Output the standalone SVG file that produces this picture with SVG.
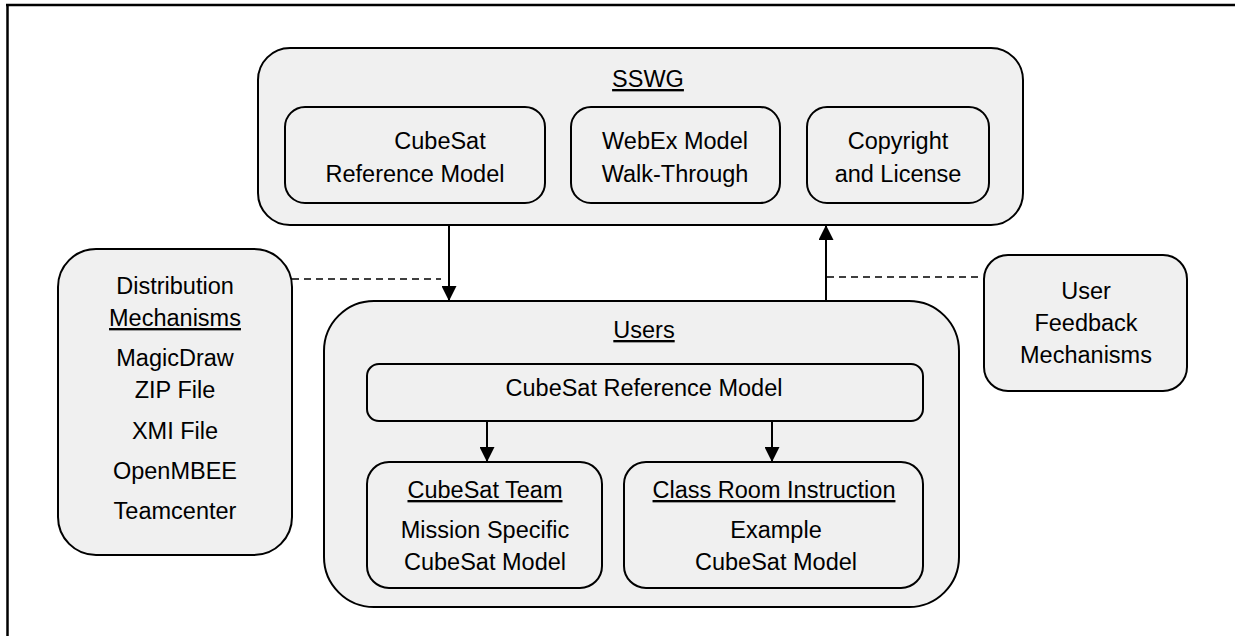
<svg xmlns="http://www.w3.org/2000/svg" width="1235" height="636" viewBox="0 0 1235 636">
<style>
.box{fill:#f0f0f0;stroke:#000;stroke-width:2}
.t{font-family:"Liberation Sans",Arial,sans-serif;font-size:23.5px;fill:#000;text-anchor:middle}
.u{text-decoration:underline}
.ln{stroke:#000;stroke-width:2;fill:none}
.dash{stroke:#000;stroke-width:1.5;fill:none;stroke-dasharray:7 5}
</style>
<defs>
<marker id="ah" markerWidth="15" markerHeight="15" viewBox="0 0 15 15" refX="15" refY="7.5" orient="auto" markerUnits="userSpaceOnUse">
<path d="M0,0 L15,7.5 L0,15 Z" fill="#000"/>
</marker>
</defs>
<rect width="1235" height="636" fill="#fff"/>
<g id="frame">
<line x1="6" y1="5" x2="1235" y2="5" stroke="#000" stroke-width="2.5"/>
<line x1="7.5" y1="4" x2="7.5" y2="636" stroke="#000" stroke-width="2.5"/>
</g>
<g id="sswg">
<rect class="box" x="258" y="48" width="765" height="177" rx="32"/>
<text class="t u" x="648" y="87">SSWG</text>
</g>
<g id="sswg-ref">
<rect class="box" x="285" y="107" width="260" height="96" rx="20"/>
<text class="t" x="440" y="149">CubeSat</text>
<text class="t" x="415" y="182">Reference Model</text>
</g>
<g id="webex">
<rect class="box" x="571" y="107" width="209" height="96" rx="20"/>
<text class="t" x="675" y="149">WebEx Model</text>
<text class="t" x="675" y="182">Walk-Through</text>
</g>
<g id="copyright">
<rect class="box" x="807" y="107" width="182" height="96" rx="20"/>
<text class="t" x="898" y="149">Copyright</text>
<text class="t" x="898" y="182">and License</text>
</g>
<g id="distribution">
<rect class="box" x="58" y="249" width="234" height="306" rx="38"/>
<text class="t" x="175" y="294">Distribution</text>
<text class="t u" x="175" y="326">Mechanisms</text>
<text class="t" x="175" y="366">MagicDraw</text>
<text class="t" x="175" y="398">ZIP File</text>
<text class="t" x="175" y="439">XMI File</text>
<text class="t" x="175" y="479">OpenMBEE</text>
<text class="t" x="175" y="519">Teamcenter</text>
</g>
<g id="users">
<rect class="box" x="324" y="301" width="635" height="306" rx="50"/>
<text class="t u" x="644" y="338">Users</text>
</g>
<g id="users-ref">
<rect class="box" x="367" y="364" width="556" height="57" rx="12"/>
<text class="t" x="644" y="396">CubeSat Reference Model</text>
</g>
<g id="team">
<rect class="box" x="367" y="462" width="235" height="126" rx="22"/>
<text class="t u" x="485" y="498">CubeSat Team</text>
<text class="t" x="485" y="538">Mission Specific</text>
<text class="t" x="485" y="570">CubeSat Model</text>
</g>
<g id="classroom">
<rect class="box" x="624" y="462" width="299" height="126" rx="22"/>
<text class="t u" x="774" y="498">Class Room Instruction</text>
<text class="t" x="776" y="538">Example</text>
<text class="t" x="776" y="570">CubeSat Model</text>
</g>
<g id="feedback">
<rect class="box" x="984" y="255" width="203" height="136" rx="24"/>
<text class="t" x="1086" y="299">User</text>
<text class="t" x="1086" y="331">Feedback</text>
<text class="t" x="1086" y="363">Mechanisms</text>
</g>
<g id="connectors">
<line class="ln" x1="449" y1="225" x2="449" y2="301" marker-end="url(#ah)"/>
<line class="ln" x1="826" y1="301" x2="826" y2="225" marker-end="url(#ah)"/>
<line class="ln" x1="487" y1="421" x2="487" y2="462" marker-end="url(#ah)"/>
<line class="ln" x1="772" y1="421" x2="772" y2="462" marker-end="url(#ah)"/>
<line class="dash" x1="292" y1="279" x2="441" y2="279"/>
<line class="dash" x1="827" y1="277" x2="978" y2="277"/>
</g>
</svg>
